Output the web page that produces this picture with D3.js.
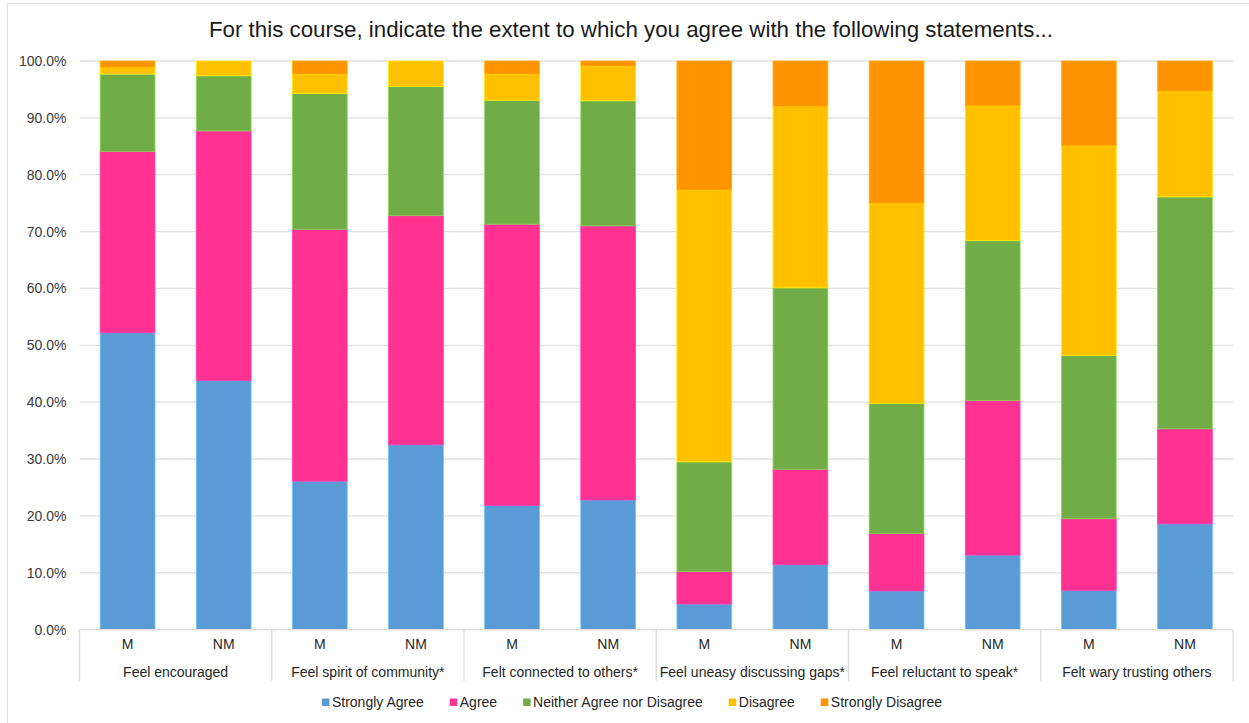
<!DOCTYPE html>
<html>
<head>
<meta charset="utf-8">
<script src="https://cdn.jsdelivr.net/npm/d3@7"></script>
<style>
  html, body { margin: 0; padding: 0; background: #fff; }
  svg { display: block; font-family: "Liberation Sans", Arial, Helvetica, sans-serif; }
</style>
</head>
<body>
<svg id="chart" width="1249" height="723"></svg>
<script>
// Survey statements (outer categories) and respondent groups (inner categories)
const statements = [
  "Feel encouraged",
  "Feel spirit of community*",
  "Felt connected to others*",
  "Feel uneasy discussing gaps*",
  "Feel reluctant to speak*",
  "Felt wary trusting others"
];
const groups = ["M", "NM"];

// Response levels, bottom to top of each stack
const responses = ["Strongly Agree", "Agree", "Neither Agree nor Disagree", "Disagree", "Strongly Disagree"];
const responseColors = ["#5B9BD5", "#FF3291", "#70AD47", "#FFC000", "#FF9300"];

// Share of responses (%) per bar, ordered statement by statement, M then NM
const stronglyAgree = [52.2, 43.8, 26.1, 32.5, 21.8, 22.8, 4.5, 11.4, 6.8, 13.1, 6.9, 18.6];
const agree         = [31.9, 43.9, 44.3, 40.3, 49.5, 48.2, 5.7, 16.8, 10.1, 27.2, 12.6, 16.7];
const neither       = [13.6,  9.7, 23.9, 22.7, 21.8, 22.0, 19.3, 31.9, 22.9, 28.1, 28.7, 40.8];
const disagree      = [ 1.2,  2.6,  3.4,  4.5,  4.6,  6.1, 47.8, 31.9, 35.2, 23.7, 36.9, 18.6];
const stronglyDis   = [ 1.1,  0.0,  2.3,  0.0,  2.3,  0.9, 22.7,  8.0, 25.0,  7.9, 14.9,  5.3];

const yTicks = [0, 10, 20, 30, 40, 50, 60, 70, 80, 90, 100];
const titleText = "For this course, indicate the extent to which you agree with the following statements...";

// Build one row per bar
const seriesValues = [stronglyAgree, agree, neither, disagree, stronglyDis];
const rows = [];
statements.forEach((s, si) => {
  groups.forEach((g, gi) => {
    const idx = si * groups.length + gi;
    const row = { key: s + "|" + g, statement: s, group: g };
    responses.forEach((r, ri) => { row[r] = seriesValues[ri][idx]; });
    rows.push(row);
  });
});

const svg = d3.select("#chart");
const labelSize = 14;
const plotLeft = 79.5, plotRight = 1233;
const plotTop = 61, plotBottom = 629.6;

// Outer frame of the chart area
svg.append("rect")
  .attr("x", 7.5).attr("y", 3.5)
  .attr("width", 1400).attr("height", 900)
  .attr("fill", "none").attr("stroke", "#e3e3e3").attr("stroke-width", 1.2);

const x = d3.scaleBand()
  .domain(rows.map(d => d.key))
  .range([plotLeft, plotRight])
  .paddingInner(0.43)
  .paddingOuter(0.215);

const xGroup = d3.scaleBand()
  .domain(statements)
  .range([plotLeft, plotRight]);

const y = d3.scaleLinear().domain([0, 100]).range([plotBottom, plotTop]);

const color = d3.scaleOrdinal().domain(responses).range(responseColors);

// Horizontal gridlines
svg.append("g")
  .selectAll("line")
  .data(yTicks)
  .join("line")
  .attr("x1", plotLeft).attr("x2", plotRight)
  .attr("y1", d => y(d)).attr("y2", d => y(d))
  .attr("stroke", "#e0e0e0").attr("stroke-width", 1.3);

// Y axis labels
const yAxis = d3.axisLeft(y)
  .tickValues(yTicks)
  .tickSize(0)
  .tickPadding(13)
  .tickFormat(d => d3.format(".1f")(d) + "%");
const gy = svg.append("g")
  .attr("transform", `translate(${plotLeft},0)`)
  .call(yAxis);
gy.select(".domain").remove();
gy.selectAll("text")
  .attr("font-size", labelSize)
  .attr("fill", "#3a3a3a")
  .attr("font-family", "Liberation Sans, Arial, sans-serif");

// Stacked bars
const stacked = d3.stack().keys(responses)(rows);

svg.append("g")
  .selectAll("g")
  .data(stacked)
  .join("g")
  .attr("fill", d => color(d.key))
  .attr("stroke", d => d3.color(color(d.key)).brighter(0.6))
  .attr("stroke-width", 0.8)
  .selectAll("rect")
  .data(d => d.filter(p => p[1] - p[0] > 0))
  .join("rect")
  .attr("x", p => x(p.data.key))
  .attr("width", x.bandwidth())
  .attr("y", p => y(p[1]))
  .attr("height", p => y(p[0]) - y(p[1]));

// Category axis: baseline, group separators, inner and outer labels
svg.append("line")
  .attr("x1", plotLeft).attr("x2", plotRight)
  .attr("y1", plotBottom).attr("y2", plotBottom)
  .attr("stroke", "#dedede").attr("stroke-width", 1.3);

const sepX = statements.map(s => xGroup(s)).concat([plotRight]);
svg.append("g")
  .selectAll("line")
  .data(sepX)
  .join("line")
  .attr("x1", d => d).attr("x2", d => d)
  .attr("y1", plotBottom).attr("y2", 681)
  .attr("stroke", "#dedede").attr("stroke-width", 1.3);

const xAxis = d3.axisBottom(x).tickSize(0).tickPadding(9).tickFormat(k => k.split("|")[1]);
const gx = svg.append("g")
  .attr("transform", `translate(0,${plotBottom})`)
  .call(xAxis);
gx.select(".domain").remove();
gx.selectAll("text")
  .attr("font-size", labelSize)
  .attr("fill", "#262626")
  .attr("font-family", "Liberation Sans, Arial, sans-serif");

svg.append("g")
  .selectAll("text")
  .data(statements)
  .join("text")
  .attr("x", d => xGroup(d) + xGroup.bandwidth() / 2)
  .attr("y", 677)
  .attr("text-anchor", "middle")
  .attr("font-size", labelSize)
  .attr("fill", "#262626")
  .text(d => d);

// Title
svg.append("text")
  .attr("x", 631)
  .attr("y", 37)
  .attr("text-anchor", "middle")
  .attr("font-size", 22.3)
  .attr("fill", "#1a1a1a")
  .text(titleText);

// Legend: items laid out in a row, centred under the plot
const legend = svg.append("g");
const legendGap = 26;
let cursor = 0;
responses.forEach(r => {
  const item = legend.append("g").attr("transform", `translate(${cursor},0)`);
  item.append("rect")
    .attr("x", 0).attr("y", 698.5)
    .attr("width", 7.5).attr("height", 7.5)
    .attr("fill", color(r));
  const t = item.append("text")
    .attr("x", 10).attr("y", 707)
    .attr("font-size", labelSize)
    .attr("fill", "#262626")
    .text(r);
  cursor += 10 + t.node().getComputedTextLength() + legendGap;
});
const legendWidth = cursor - legendGap;
legend.attr("transform", `translate(${632 - legendWidth / 2},0)`);
</script>
</body>
</html>
